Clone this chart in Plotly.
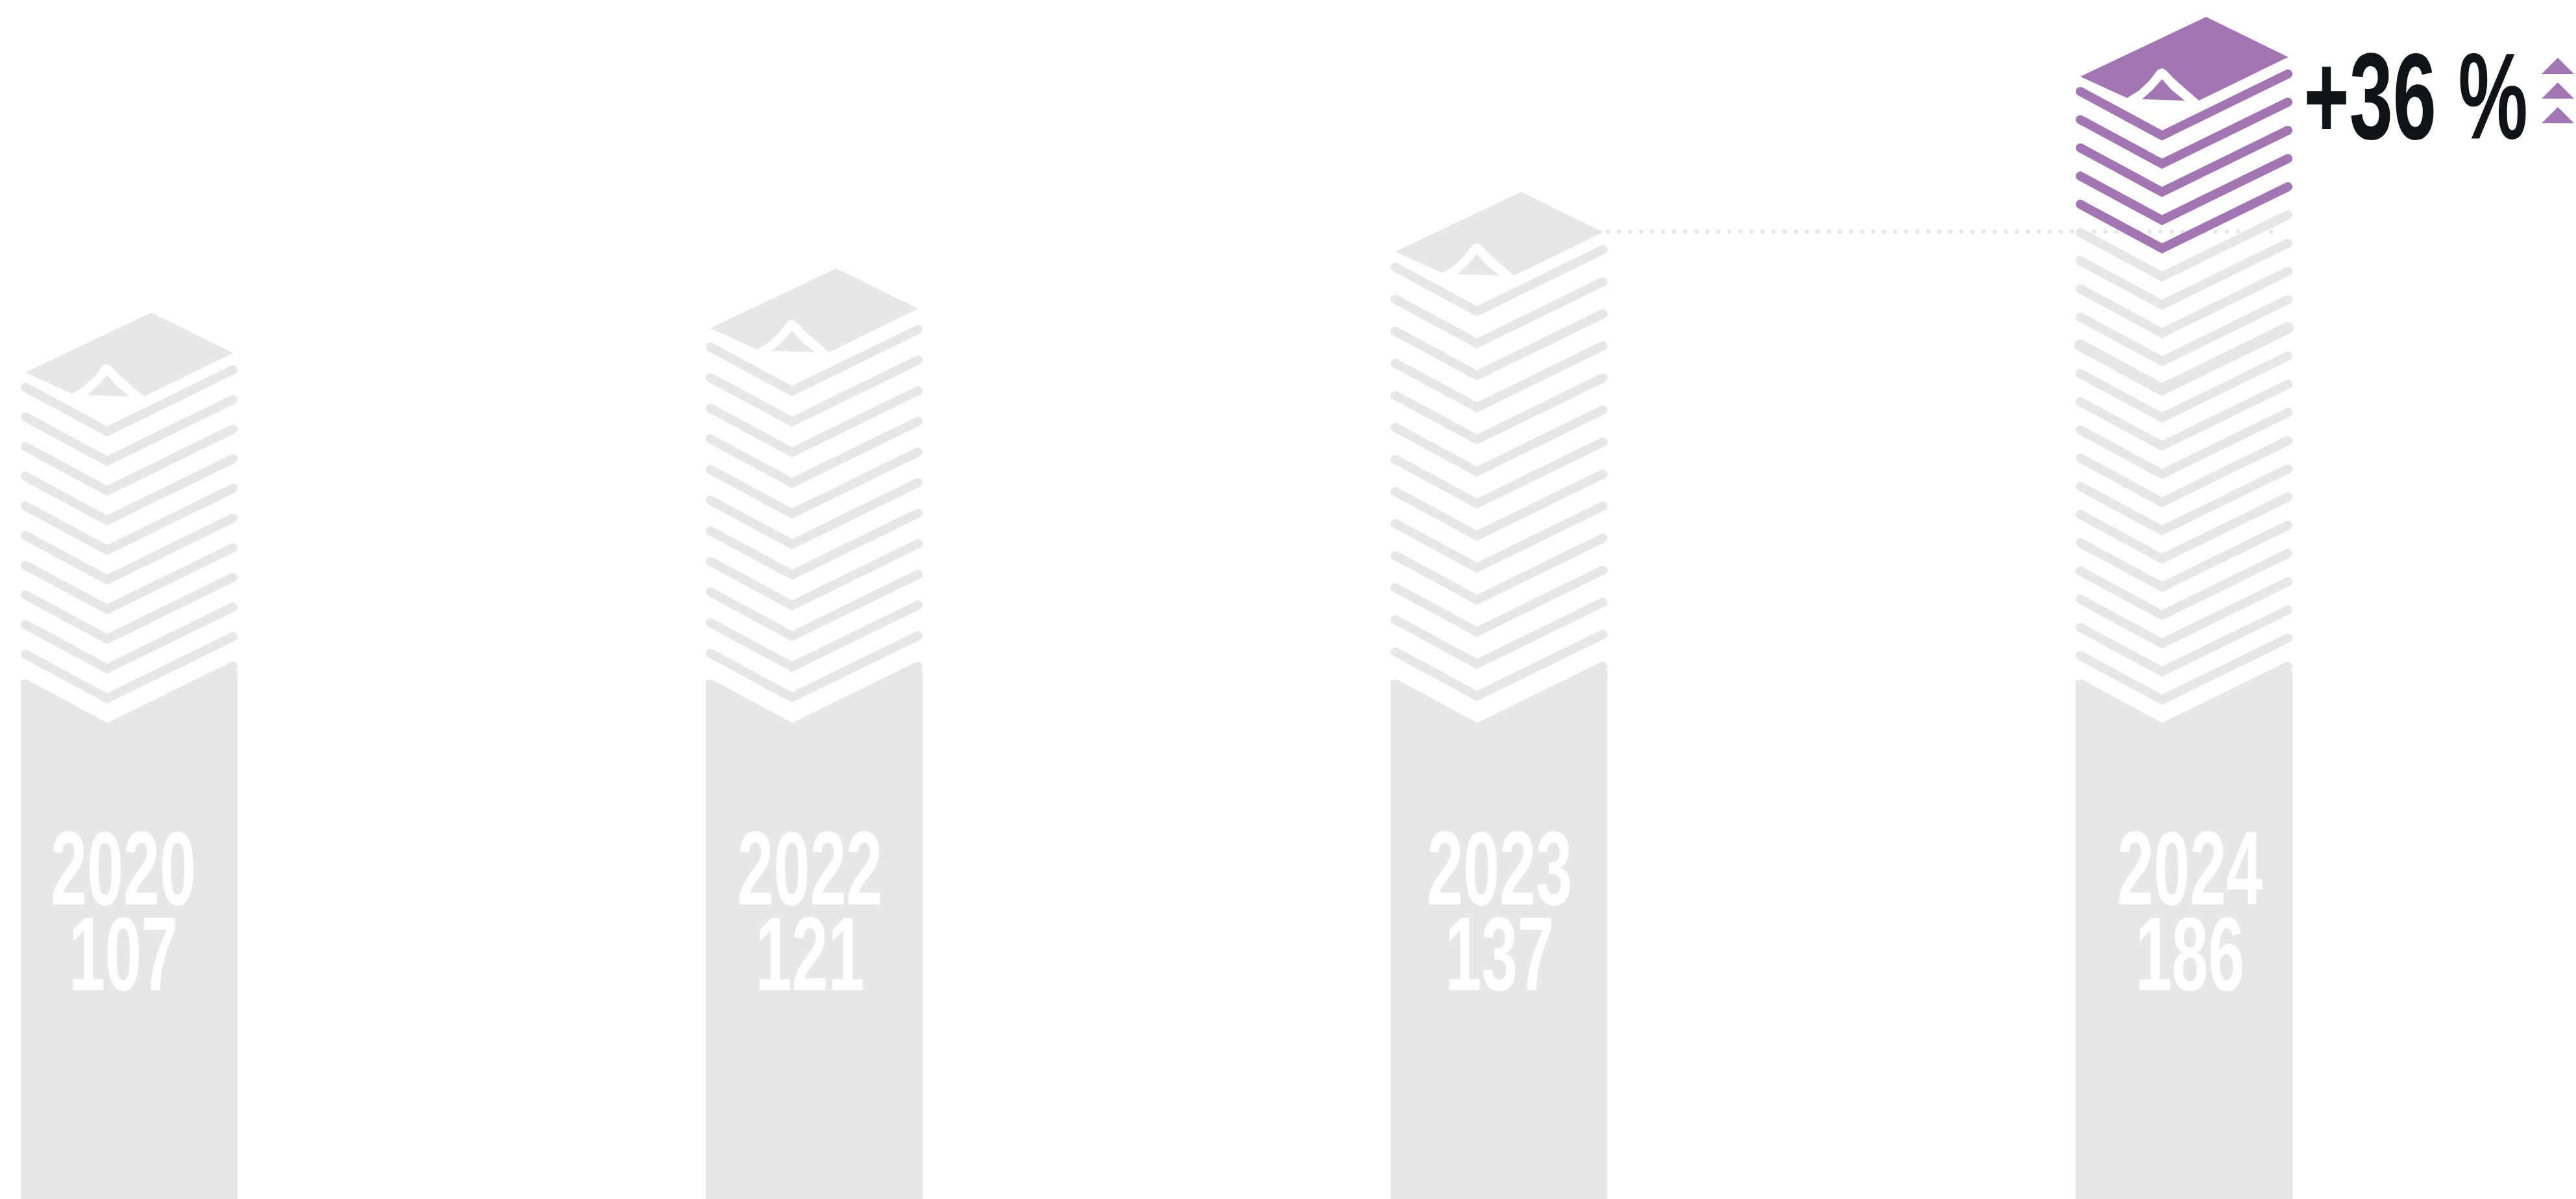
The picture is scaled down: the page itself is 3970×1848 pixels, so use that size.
import numpy as np
import plotly.graph_objects as go

# ---------- data ----------
years = ["2020", "2022", "2023", "2024"]
values = [107, 121, 137, 186]
layer_counts = [10, 11, 13, 21]      # loose sheets stacked above each block
accent_counts = [0, 0, 0, 5]         # topmost sheets drawn in the accent colour
change_label = "+36 %"

# ---------- style ----------
GREY = "#E6E7E8"
PURPLE = "#A276B2"
INK = "#101416"
FONT = "Liberation Sans"
TEXT_SQUEEZE = 0.625
HEAD_SQUEEZE = 0.635

W, H = 3970, 1848

# ---------- icon geometry, in axis units relative to a column's centre line ----------
FIRST_APEX_X = 165.0
COLUMN_STEP = 1055.67
BASE_APEX_Y = 1122.0
STACK_PITCH = [45.7, 47.2, 49.4, 43.48]
SHEET_LIFT = [0, 6, 1, 0]
LINE_W = 14
CHEVRON_X = [-126, 0, 194]
CHEVRON_Y = [-68, 0, -95]
BLOCK_X = [-133, -133, -126, 0, 194, 201, 201]
BLOCK_Y = [None, -75, -68, 0, -95, -88, None]
SHEET_X = [-126, 68, 194.5, 57, 35, 17, 7, 0, -7, -20, -36, -54]
SHEET_Y = [-91, -183, -121, -54, -73, -89, -100, -104, -101, -84, -69, -58]
FOLD_X = [0, 14, 35, -31, -14]
FOLD_Y = [-87, -71, -54, -56, -71]
THICK_LAYER = {3: 12}
LABEL_NUDGE = [25, 27.5, 34.6, 43]
LABEL_Y = (1354, 1485.5)
HEAD_POS = (3723, 166)
HEAD_SIZE = 190
DOT_Y = 357
DOT_X = np.linspace(2478, 3500, 61)
ARROW_X = [3917, 3942, 3967]
ARROW_BASES = [114, 152, 190]
ARROW_H = 25

fig = go.Figure()


def add_poly(xs, ys, colour):
    fig.add_trace(go.Scatter(x=xs, y=ys, mode="lines", fill="toself", fillcolor=colour,
                             line=dict(width=0, color=colour), hoverinfo="skip"))


def add_chevrons(cx, apexes, colour, width=LINE_W):
    xs, ys, ex, ey = [], [], [], []
    for a in apexes:
        xs += [cx + d for d in CHEVRON_X] + [None]
        ys += [a + d for d in CHEVRON_Y] + [None]
        ex += [cx + CHEVRON_X[0], cx + CHEVRON_X[-1]]
        ey += [a + CHEVRON_Y[0], a + CHEVRON_Y[-1]]
    fig.add_trace(go.Scatter(x=xs, y=ys, mode="lines", hoverinfo="skip",
                             line=dict(color=colour, width=width)))
    fig.add_trace(go.Scatter(x=ex, y=ey, mode="markers", hoverinfo="skip",
                             marker=dict(color=colour, size=width, line=dict(width=0))))


# dotted reference line, beneath the stacks
fig.add_trace(go.Scatter(x=DOT_X, y=[DOT_Y] * len(DOT_X), mode="markers", hoverinfo="skip",
                         marker=dict(color=GREY, size=6.5, line=dict(width=0))))

for i, (yr, val, n, acc) in enumerate(zip(years, values, layer_counts, accent_counts)):
    cx = FIRST_APEX_X + COLUMN_STEP * i
    pitch = STACK_PITCH[i]
    top_colour = PURPLE if acc else GREY

    # solid block
    bx = [cx + d for d in BLOCK_X]
    by = [H if d is None else BASE_APEX_Y + d for d in BLOCK_Y]
    add_poly(bx, by, GREY)
    add_chevrons(cx, [BASE_APEX_Y], GREY)

    # sheets
    k_all = list(range(1, n + 1))
    grey_k = [k for k in k_all if k <= n - acc and THICK_LAYER.get(i) != k]
    add_chevrons(cx, [BASE_APEX_Y - k * pitch for k in grey_k], GREY)
    if THICK_LAYER.get(i):
        add_chevrons(cx, [BASE_APEX_Y - THICK_LAYER[i] * pitch], GREY, width=LINE_W + 4)
    if acc:
        add_chevrons(cx, [BASE_APEX_Y - k * pitch for k in k_all if k > n - acc], PURPLE)

    # top sheet with its turned-up corner
    top = BASE_APEX_Y - n * pitch - SHEET_LIFT[i]
    add_poly([cx + d for d in SHEET_X], [top + d for d in SHEET_Y], top_colour)
    add_poly([cx + d for d in FOLD_X], [top + d for d in FOLD_Y], top_colour)

    # labels
    tx = cx + LABEL_NUDGE[i]
    fig.add_trace(go.Scatter(x=[tx, tx], y=list(LABEL_Y), mode="text", text=[yr, str(val)],
                             textposition="middle center", hoverinfo="skip",
                             textfont=dict(family=FONT, size=161, color="white", weight="bold")))

# headline change
fig.add_trace(go.Scatter(x=[HEAD_POS[0]], y=[HEAD_POS[1]], mode="text", text=[change_label],
                         textposition="middle center", hoverinfo="skip",
                         textfont=dict(family=FONT, size=HEAD_SIZE, color=INK, weight="bold")))

for base in ARROW_BASES:
    add_poly(ARROW_X, [base, base - ARROW_H, base], PURPLE)

fig.update_layout(
    width=W, height=H, margin=dict(l=0, r=0, t=0, b=0), showlegend=False,
    paper_bgcolor="white", plot_bgcolor="white",
    xaxis=dict(range=[0, W], visible=False, fixedrange=True),
    yaxis=dict(range=[H, 0], visible=False, fixedrange=True),
)

post = """
document.body.style.margin = '0';
document.body.style.overflow = 'hidden';
document.querySelectorAll('.textpoint text').forEach(function (t) {
  var cx = parseFloat(t.getAttribute('x'));
  var s = t.textContent.indexOf('%') >= 0 ? HEAD : BODY;
  t.setAttribute('transform', 'translate(' + cx + ',0) scale(' + s + ',1) translate(' + (-cx) + ',0)');
});
""".replace("HEAD", str(HEAD_SQUEEZE)).replace("BODY", str(TEXT_SQUEEZE))

fig.write_html("out.html", post_script=post, config=dict(displayModeBar=False))
